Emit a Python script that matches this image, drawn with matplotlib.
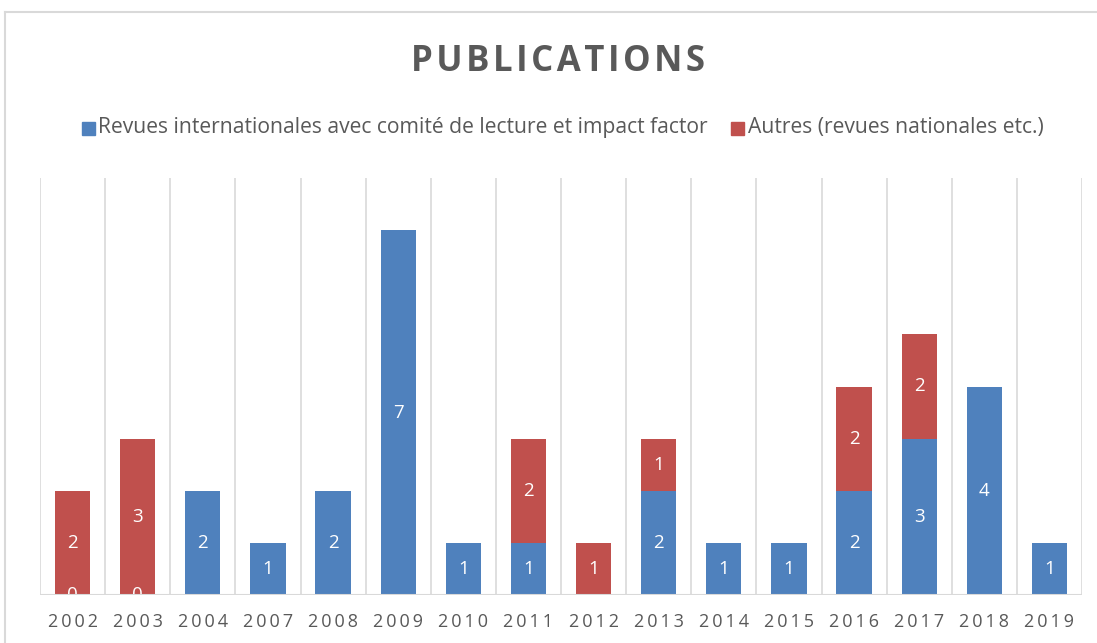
import numpy as np
import matplotlib.pyplot as plt
from matplotlib.lines import Line2D
from matplotlib.patches import Rectangle

# Publication counts per year
years = ["2002", "2003", "2004", "2007", "2008", "2009", "2010", "2011",
         "2012", "2013", "2014", "2015", "2016", "2017", "2018", "2019"]
intl = [0, 0, 2, 1, 2, 7, 1, 1, np.nan, 2, 1, 1, 2, 3, 4, 1]
autres = [2, 3, np.nan, np.nan, np.nan, np.nan, np.nan, 2, 1, 1,
          np.nan, np.nan, 2, 2, np.nan, np.nan]

BLUE = "#4F81BD"
RED = "#C0504D"
GREY_TXT = "#595959"
GRID = "#d9d9d9"

plt.rcParams['font.family'] = ['Open Sans', 'DejaVu Sans']

fig = plt.figure(figsize=(10.97, 6.43), dpi=100)
ax = fig.add_axes([40 / 1097, 48 / 643, 1042 / 1097, 417 / 643])

x = np.arange(len(years))
a = np.nan_to_num(np.array(intl, dtype=float))
b = np.nan_to_num(np.array(autres, dtype=float))
w = 0.54

ax.bar(x, a, w, color=BLUE, zorder=2)
ax.bar(x, b, w, bottom=a, color=RED, zorder=2)

# data labels centered in each segment
for i in x:
    if not np.isnan(intl[i]):
        ax.text(i, intl[i] / 2, f"{int(intl[i])}", ha="center", va="center",
                color="white", fontsize=13.5, zorder=3, clip_on=True)
    if not np.isnan(autres[i]):
        ax.text(i, a[i] + autres[i] / 2, f"{int(autres[i])}", ha="center",
                va="center", color="white", fontsize=13.5, zorder=3, clip_on=True)

ax.set_xlim(-0.5, len(years) - 0.5)
ax.set_ylim(0, 8)
for xv in np.arange(-0.5, len(years), 1.0):
    ax.axvline(xv, color=GRID, lw=1.2, zorder=1)
ax.axhline(0, color=GRID, lw=1.5, zorder=3)

for s in ax.spines.values():
    s.set_visible(False)
ax.set_yticks([])
ax.set_xticks(x)
ax.set_xticklabels(["\u2009".join(y) for y in years], fontsize=13,
                   color=GREY_TXT)
ax.tick_params(axis="x", length=0, pad=13)

# title
fig.text(0.509, 1 - 62 / 643, "\u200a".join("PUBLICATIONS"),
         ha="center", va="center", fontsize=25, fontweight="bold", color=GREY_TXT)

# legend
ly = 1 - 128 / 643
fig.patches.append(Rectangle((82 / 1097, ly - 6.5 / 643), 13 / 1097, 13 / 643,
                             transform=fig.transFigure, color=BLUE))
fig.text(98 / 1097, ly, "Revues internationales avec comité de lecture et impact factor",
         ha="left", va="center", fontsize=15.2, color=GREY_TXT)
fig.patches.append(Rectangle((731 / 1097, ly - 6.5 / 643), 13 / 1097, 13 / 643,
                             transform=fig.transFigure, color=RED))
fig.text(748 / 1097, ly, "Autres (revues nationales etc.)",
         ha="left", va="center", fontsize=15.2, color=GREY_TXT)

# chart frame
fig.lines.append(Line2D([5 / 1097, 5 / 1097], [0, 1 - 12 / 643],
                        transform=fig.transFigure, color=GRID, lw=1.5))
fig.lines.append(Line2D([5 / 1097, 1], [1 - 12 / 643, 1 - 12 / 643],
                        transform=fig.transFigure, color=GRID, lw=1.5))

fig.savefig("out.png", dpi=100)
